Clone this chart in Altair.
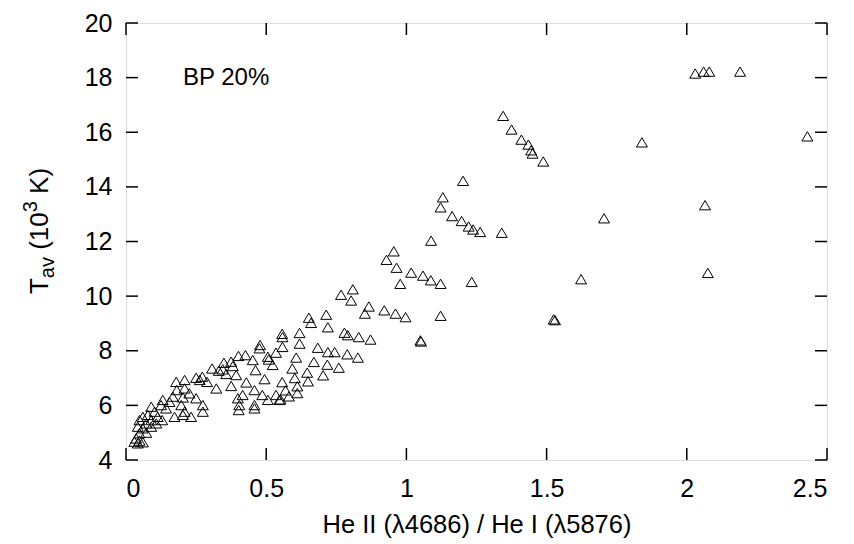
import altair as alt
import pandas as pd

# He II / He I ratio (x) and T_av in 10^3 K (y)
ratio = [
    2.03, 2.06, 2.08, 2.19, 2.43, 1.84, 2.065, 1.705, 2.075,
    1.345, 1.375, 1.41, 1.435, 1.445, 1.45, 1.488, 1.202, 1.13, 1.122, 1.163,
    1.197, 1.222, 1.238, 1.263, 1.34,
    1.122, 1.233, 1.623, 1.122, 1.525, 1.53,
    1.088, 0.955, 0.929, 0.965, 1.017, 1.059, 1.087, 0.978,
    0.767, 0.809, 0.803, 0.866, 0.852, 0.921, 0.961, 0.997, 1.05, 1.052,
    0.652, 0.66, 0.714, 0.72, 0.779, 0.791, 0.83, 0.872,
    0.557, 0.558, 0.619, 0.558, 0.619, 0.684, 0.72, 0.744, 0.789, 0.827,
    0.607, 0.67, 0.718, 0.759, 0.593, 0.646, 0.703, 0.602, 0.557, 0.649,
    0.611, 0.569, 0.611, 0.581, 0.551,
    0.478, 0.476,
    0.401, 0.426, 0.452, 0.506, 0.535, 0.509, 0.523,
    0.349, 0.375, 0.381, 0.307, 0.331, 0.345, 0.357, 0.393, 0.462,
    0.25, 0.272, 0.289, 0.322, 0.375, 0.429, 0.494,
    0.458, 0.486, 0.399, 0.416, 0.404, 0.402, 0.458, 0.458, 0.506, 0.535, 0.547,
    0.209, 0.209, 0.226, 0.25, 0.203, 0.181, 0.167, 0.155, 0.197, 0.209,
    0.203, 0.232, 0.274, 0.274, 0.173,
    0.131, 0.125, 0.143, 0.09, 0.102, 0.113, 0.129, 0.078, 0.06, 0.048,
    0.072, 0.09, 0.042, 0.06, 0.048, 0.072, 0.036, 0.048, 0.06, 0.03,
    0.042, 0.09, 0.108,
    0.263, 0.179,
]
tav = [
    18.15, 18.22, 18.22, 18.22, 15.85, 15.63, 13.33, 12.85, 10.85,
    16.6, 16.1, 15.73, 15.55, 15.34, 15.22, 14.93, 14.22, 13.62, 13.25, 12.93,
    12.75, 12.55, 12.44, 12.35, 12.32,
    10.45, 10.52, 10.62, 9.28, 9.15, 9.12,
    12.03, 11.64, 11.33, 11.04, 10.86, 10.75, 10.58, 10.45,
    10.05, 10.25, 9.84, 9.62, 9.36, 9.48, 9.36, 9.23, 8.38, 8.34,
    9.21, 9.02, 9.32, 8.86, 8.66, 8.57, 8.5, 8.41,
    8.62, 8.5, 8.65, 8.14, 8.26, 8.11, 7.95, 7.95, 7.87, 7.75,
    7.75, 7.59, 7.49, 7.38, 7.35, 7.2, 7.1, 7.0, 6.85, 6.88,
    6.7, 6.55, 6.45, 6.33, 6.22,
    8.21, 8.09,
    7.81, 7.84, 7.66, 7.78, 7.93, 7.68, 7.48,
    7.56, 7.6, 7.44, 7.35, 7.27, 7.32, 7.15, 7.11, 7.29,
    7.01, 7.05, 6.86, 6.62, 6.71, 6.84, 6.96,
    6.56, 6.38, 6.26, 6.38, 6.01, 5.83, 6.01, 5.89, 6.2, 6.38, 6.2,
    6.93, 6.62, 6.44, 6.26, 6.29, 6.56, 6.32, 6.13, 6.01, 5.77,
    5.65, 5.58, 6.01, 5.77, 5.58,
    6.2, 6.01, 5.89, 5.95, 5.77, 5.58, 5.46, 5.65, 5.58, 5.46,
    5.34, 5.22, 5.22, 5.16, 4.98, 5.0, 4.79, 4.71, 4.65, 4.67,
    4.61, 5.46, 5.34,
    6.93, 6.86,
]

x_ticks = [0, 0.5, 1, 1.5, 2, 2.5]
y_ticks = [4, 6, 8, 10, 12, 14, 16, 18, 20]

W, H = 701, 437
FONT = "Liberation Sans"
TICK = 12

df = pd.DataFrame({"ratio": ratio, "tav": tav})
dfx = pd.DataFrame({"t": x_ticks})
dfy = pd.DataFrame({"t": y_ticks})

xscale = alt.Scale(domain=[0, 2.5], nice=False, zero=False)
yscale = alt.Scale(domain=[4, 20], nice=False, zero=False)

xaxis = alt.Axis(values=x_ticks, format="~g", grid=False, ticks=False, tickSize=0,
                 domain=False, labelFontSize=25, labelPadding=16, labelFont=FONT,
                 labelColor="black", title="He II (λ4686) / He I (λ5876)",
                 titleFont=FONT, titleFontSize=25.5, titleFontWeight="normal",
                 titleColor="black", titleBaseline="alphabetic", titleY=72)
yaxis = alt.Axis(values=y_ticks, format="d", grid=False, ticks=False, tickSize=0,
                 domain=False, labelFontSize=25, labelPadding=14, labelFont=FONT,
                 labelColor="black", title=None)

tri = "M-1,0.85L0,-0.85L1,0.85Z"

points = alt.Chart(df).mark_point(
    shape=tri, size=120, filled=False, stroke="black", strokeWidth=1, opacity=1
).encode(
    x=alt.X("ratio:Q", scale=xscale, axis=xaxis),
    y=alt.Y("tav:Q", scale=yscale, axis=yaxis),
)

xt_bot = alt.Chart(dfx).mark_rule(color="black", strokeWidth=1.5).encode(
    x=alt.X("t:Q", scale=xscale, axis=xaxis), y=alt.value(H), y2=alt.value(H - TICK))
xt_top = alt.Chart(dfx).mark_rule(color="black", strokeWidth=1.5).encode(
    x=alt.X("t:Q", scale=xscale, axis=xaxis), y=alt.value(0), y2=alt.value(TICK))
yt_left = alt.Chart(dfy).mark_rule(color="black", strokeWidth=1.5).encode(
    y=alt.Y("t:Q", scale=yscale, axis=yaxis), x=alt.value(0), x2=alt.value(TICK))
yt_right = alt.Chart(dfy).mark_rule(color="black", strokeWidth=1.5).encode(
    y=alt.Y("t:Q", scale=yscale, axis=yaxis), x=alt.value(W), x2=alt.value(W - TICK))

one = pd.DataFrame({"a": [0]})


def txt(s, x, y, size, angle=0, align="left", baseline="alphabetic"):
    kw = dict(font=FONT, fontSize=size, color="black", align=align, baseline=baseline)
    if angle:
        kw["angle"] = angle
    return alt.Chart(one).mark_text(**kw).encode(
        x=alt.value(x), y=alt.value(y), text=alt.value(s))


label = txt("BP 20%", 57, 55, 24, baseline="middle")

# y-axis title "T_av (10^3 K)" composed of rotated pieces
MAIN, SMALL = 26, 20
segs = [("T", MAIN, 0, 0.611 * MAIN),
        ("av", SMALL, 6, (0.556 + 0.5) * SMALL),
        ("(10", MAIN, 0, (0.333 + 0.556 * 2) * MAIN),
        ("3", SMALL, -11, 0.556 * SMALL),
        ("K)", MAIN, 0, (0.667 + 0.333) * MAIN)]
space = 0.278 * MAIN
lead = [0, 0, space, 0, space]
total = sum(s[3] for s in segs) + sum(lead)
ycenter = 208
xbase = -78
ypos = ycenter + total / 2
title_layers = []
for (s, size, dx, w), ld in zip(segs, lead):
    ypos -= ld
    title_layers.append(txt(s, xbase + dx, ypos, size, angle=270))
    ypos -= w

chart = alt.layer(points, xt_bot, xt_top, yt_left, yt_right, label, *title_layers).properties(
    width=W, height=H,
    autosize=alt.AutoSizeParams(type="none"),
    padding={"left": 126, "top": 23, "right": 27, "bottom": 84},
).configure_view(stroke="black", strokeWidth=2).configure(background="white")

chart.save("out.html", embed_options={"renderer": "svg", "actions": False})
